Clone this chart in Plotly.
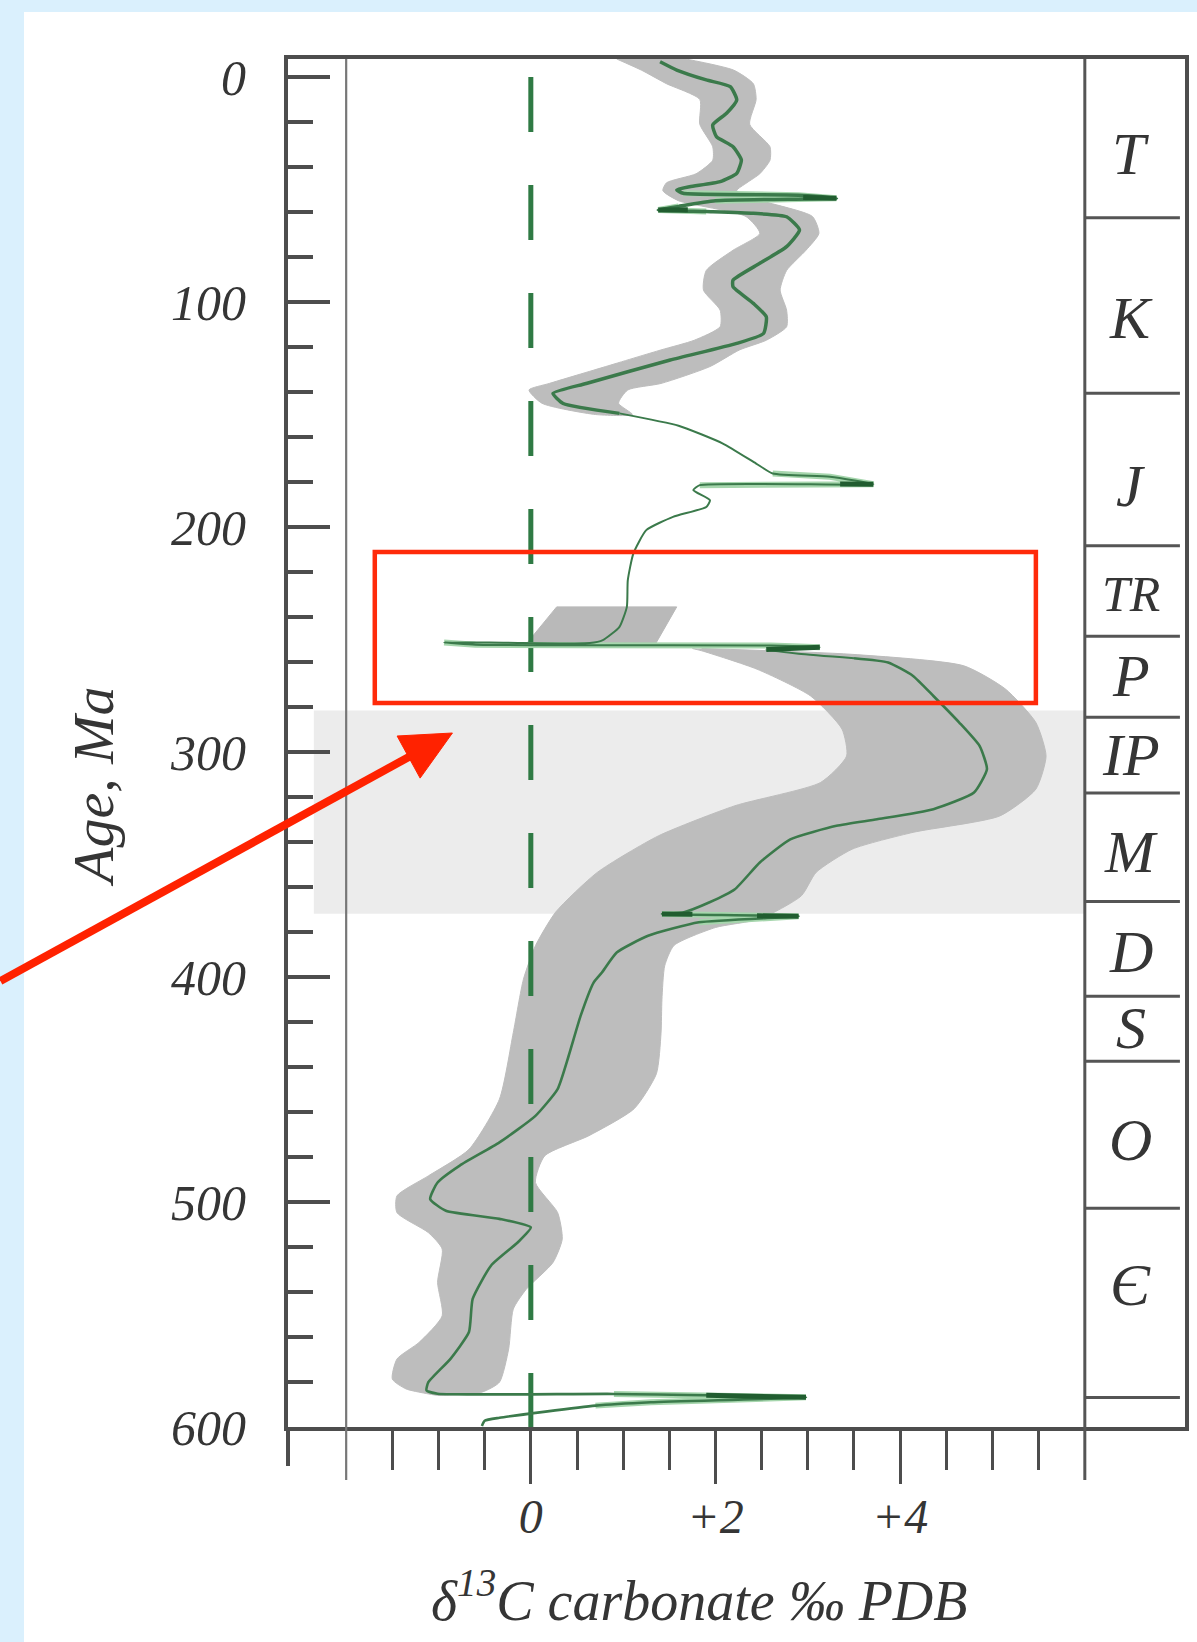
import plotly.graph_objects as go

# ---------------- data ----------------
# central d13C curve (per mil) vs age (Ma)
curve_x = [1.40, 1.58, 1.90, 2.16, 2.23, 2.12, 1.97, 2.01, 2.19, 2.28, 2.23, 2.05, 1.72, 1.58, 1.65, 2.9, 3.31, 2.0,
           1.6, 1.38, 1.9, 2.41, 2.77, 2.91, 2.77, 2.48, 2.19, 2.19, 2.41, 2.55, 2.52, 2.23, 1.51, 0.60, 0.24, 0.35,
           0.96, 1.60, 2.08, 2.44, 2.62, 3.24, 3.71, 1.83, 1.76, 1.94, 1.90, 1.54, 1.25, 1.11, 1.05, 1.04, 0.96,
           0.78, 0.64, -0.3, -0.94, -0.6, 0.5, 2.6, 3.13, 2.55, 2.9, 3.5, 3.87, 4.14, 4.36, 4.64, 4.86, 4.94, 4.80,
           4.36, 3.75, 3.31, 2.81, 2.48, 2.21, 1.93, 1.65, 1.42, 2.9, 1.82, 1.27, 0.93, 0.77, 0.68, 0.54, 0.41, 0.29,
           0.05, -0.34, -0.77, -1.01, -1.09, -0.92, -0.34, 0.0, -0.14, -0.43, -0.63, -0.67, -0.87, -1.11, -1.13,
           -1.01, 0.9, 2.98, 1.3, 0.7, -0.34, -0.5, -0.53]
curve_age = [-6.8, -3.1, 1.3, 4.3, 10.2, 16.1, 21.3, 26.5, 31.0, 36.9, 42.8, 46.5, 48.8, 50.2, 51.7, 52.5, 53.9, 55.0,
             57.5, 59.1, 59.8, 60.6, 62.1, 68.0, 75.4, 82.8, 90.3, 93.2, 100.6, 106.6, 114.0, 118.4, 125.8, 136.2,
             140.6, 145.1, 149.5, 155.0, 162.9, 171.8, 176.2, 177.7, 181.0, 181.4, 183.6, 188.1, 191.1, 195.5, 201.4,
             211.8, 223.7, 235.5, 244.4, 250.3, 251.6, 251.4, 251.3, 252.3, 252.6, 252.7, 253.4, 254.6, 256.3, 258.3,
             260.2, 266.2, 275.1, 286.9, 297.3, 307.6, 318.0, 325.4, 329.9, 332.8, 338.8, 349.1, 361.0, 366.9, 371.3,
             372.0, 373.0, 375.7, 381.7, 389.1, 398.0, 402.5, 417.2, 435.0, 449.8, 461.7, 473.5, 483.8, 491.3, 498.7,
             503.9, 507.5, 511.3, 517.9, 528.2, 543.1, 557.8, 569.7, 580.1, 583.7, 585.2, 585.3, 586.8, 589.0, 590.5,
             595.9, 597.2, 599.5]

# grey uncertainty envelope, Cenozoic-Cretaceous part
env1_age = [-8, -3, 3, 10, 21, 31, 37, 43, 47, 50.5, 55, 62, 69.5, 77, 86, 94.7, 103.6, 111, 117, 121.3, 128.7,
            136.2, 139.1, 145, 150]
env1_left = [0.93, 1.2, 1.47, 1.83, 1.83, 1.97, 1.97, 1.79, 1.47, 1.43, 1.6, 2.33, 2.48, 2.19, 1.9, 1.87, 2.05, 2.05,
             1.77, 1.41, 0.81, 0.2, -0.02, 0.12, 0.7]
env1_right = [1.68, 2.2, 2.41, 2.44, 2.37, 2.59, 2.59, 2.48, 2.34, 2.23, 2.5, 3.05, 3.12, 2.98, 2.77, 2.7, 2.77, 2.77,
              2.55, 2.26, 1.94, 1.41, 1.05, 0.95, 1.1]

# grey envelope, Permian to Ediacaran part
env3_left_age = [254.0, 255.0, 263.2, 275.1, 289.8, 301.8, 313.5, 323.9, 337.3, 353.5, 371.1, 386.1, 401.0, 424.7,
                 454.3, 476.6, 488.4, 497.3, 504.7, 513.6, 520.9, 535.7, 550.6, 562.4, 569.8, 578.7, 583.1, 586.0]
env3_left_x = [1.75, 1.85, 2.45, 3.03, 3.37, 3.42, 3.14, 2.21, 1.38, 0.72, 0.27, 0.05, -0.08, -0.19, -0.34, -0.67,
               -1.11, -1.45, -1.45, -1.11, -0.96, -1.01, -0.96, -1.21, -1.45, -1.5, -1.35, -1.01]
env3_right_age = [254.0, 256.6, 261.7, 272.0, 286.9, 301.8, 316.5, 328.4, 335.7, 343.2, 353.5, 363.9, 374.2, 378.0,
                  386.0, 395.0, 410.0, 425.0, 443.0, 458.5, 470.5, 479.5, 491.3, 504.7, 516.5, 526.9, 538.8, 547.6,
                  565.3, 580.1, 584.5, 586.0]
env3_right_x = [1.85, 3.48, 4.69, 5.14, 5.47, 5.58, 5.47, 5.08, 4.14, 3.48, 3.09, 2.93, 2.48, 2.0, 1.55, 1.45, 1.42,
                1.41, 1.36, 1.12, 0.63, 0.15, 0.05, 0.29, 0.34, 0.24, -0.05, -0.19, -0.24, -0.34, -0.53, -1.01]

# Triassic grey block
tri_x = [0.28, 1.58, 1.35, -0.05]
tri_age = [235.5, 235.5, 252.0, 252.0]

# light-green highlighted excursion segments and their dark tips
spike_x = [1.65, 2.9, 3.31, 2.0, None, 1.6, 1.38, 1.9, None, 2.62, 3.24, 3.71, 1.83, None,
           -0.94, -0.6, 0.5, 2.6, 3.13, None, 1.42, 2.9, 1.82, None, 0.9, 2.98, 1.3, 0.7]
spike_age = [51.7, 52.5, 53.9, 55.0, None, 57.5, 59.1, 59.8, None, 176.2, 177.7, 181.0, 181.4, None,
             251.3, 252.3, 252.6, 252.7, 253.4, None, 372.0, 373.0, 375.7, None, 585.3, 586.8, 589.0, 590.5]
tip_x = [2.95, 3.31, None, 1.38, 1.7, None, 3.35, 3.71, None, 2.55, 3.13, None, 1.42, 1.75, None, 2.45, 2.9,
         None, 1.9, 2.98]
tip_age = [53.6, 53.9, None, 59.1, 59.0, None, 180.9, 181.0, None, 254.4, 253.4, None, 372.0, 372.1, None,
           372.8, 373.0, None, 585.9, 586.8]

# zero reference line
zero_x = [0, 0]
zero_age = [0, 600]

# geological periods (right-hand column)
period_names = ["T", "K", "J", "TR", "P", "IP", "M", "D", "S", "O", "Є"]
period_label_age = [34.1, 107.1, 181.7, 229.9, 266.3, 301.2, 344.4, 388.8, 422.5, 472.4, 537.0]
period_bounds = [62.6, 140.5, 208.3, 248.6, 284.6, 318.2, 366.4, 408.5, 437.4, 502.8, 586.9]

# light grey band and red highlight box
band_age = [281.5, 371.9]
box_x = [-1.69, 5.47]
box_age = [211.1, 278.2]

# axes
x_major = [0, 2, 4]
x_major_text = ["0", "+2", "+4"]
x_minor = [-1.5, -1, -0.5, 0.5, 1, 1.5, 2.5, 3, 3.5, 4.5, 5, 5.5]
x_frame = [-2, 6]
y_ticks = [0, 100, 200, 300, 400, 500, 600]

# ---------------- figure ----------------
AX = "#4d4d4d"
TXT = "#353535"
FONT = "Liberation Serif"
GREEN = "#3b7a4b"
RED = "#ff2200"
PLOT_H = 1368

fig = go.Figure()

fig.add_trace(go.Scatter(x=env1_left + env1_right[::-1], y=env1_age + env1_age[::-1], mode="lines",
                         fill="toself", fillcolor="#bdbdbd",
                         line=dict(color="#bdbdbd", width=1, shape="spline", smoothing=0.6), hoverinfo="skip"))
fig.add_trace(go.Scatter(x=env3_left_x + env3_right_x[::-1], y=env3_left_age + env3_right_age[::-1],
                         mode="lines", fill="toself", fillcolor="#bdbdbd",
                         line=dict(color="#bdbdbd", width=1, shape="spline", smoothing=0.6), hoverinfo="skip"))
fig.add_trace(go.Scatter(x=tri_x + tri_x[:1], y=tri_age + tri_age[:1], mode="lines", fill="toself",
                         fillcolor="#b9b9b9", line=dict(color="#b9b9b9", width=1), hoverinfo="skip"))

fig.add_trace(go.Scatter(x=zero_x, y=zero_age, mode="lines",
                         line=dict(color="#2f7a44", width=5, dash="55px,53px"), hoverinfo="skip"))

fig.add_trace(go.Scatter(x=spike_x, y=spike_age, mode="lines", connectgaps=False,
                         line=dict(color="#a6d6ad", width=6), hoverinfo="skip"))

# main curve split in three segments of different weights
segments = [(-100, 149.5, 3.5), (149.5, 258.3, 2.0), (258.3, 1000, 2.6)]
for lo, hi, w in segments:
    xs = [x for x, a in zip(curve_x, curve_age) if lo <= a <= hi]
    ys = [a for a in curve_age if lo <= a <= hi]
    fig.add_trace(go.Scatter(x=xs, y=ys, mode="lines",
                             line=dict(color=GREEN, width=w, shape="spline", smoothing=0.5), hoverinfo="skip"))

fig.add_trace(go.Scatter(x=tip_x, y=tip_age, mode="lines", connectgaps=False,
                         line=dict(color="#215d30", width=5), hoverinfo="skip"))

shapes = []
# white panel over the light blue page background
shapes.append(dict(type="rect", xref="paper", yref="paper", x0=-0.2943, x1=1.2, y0=-0.3, y1=1.0344,
                   fillcolor="white", line=dict(width=0), layer="below"))
# light grey band
shapes.append(dict(type="rect", xref="x", yref="y", x0=-2.35, x1=6, y0=band_age[0], y1=band_age[1],
                   fillcolor="#ececec", line=dict(width=0), layer="below"))
# inner frame lines (continue below the axis as long ticks)
for xv, col, w in zip(x_frame, ["#777777", "#555555"], [2.2, 3]):
    shapes.append(dict(type="line", xref="x", yref="paper", x0=xv, x1=xv, y0=-53 / PLOT_H, y1=1,
                       line=dict(color=col, width=w), layer="above"))
# left axis line running past the bottom
shapes.append(dict(type="line", xref="paper", yref="paper", x0=0, x1=0, y0=0, y1=-39 / PLOT_H,
                   line=dict(color=AX, width=4)))
# period separators
for b in period_bounds:
    shapes.append(dict(type="line", xref="x", yref="y", x0=6, x1=7.03, y0=b, y1=b,
                       line=dict(color="#555555", width=3), layer="above"))
# red highlight box
shapes.append(dict(type="rect", xref="x", yref="y", x0=box_x[0], x1=box_x[1], y0=box_age[0], y1=box_age[1],
                   line=dict(color="#ff2a0a", width=4.5), fillcolor="rgba(0,0,0,0)", layer="above"))
# red pointer arrow (shaft + head), anchored at its tip, sized in pixels
ARROW_ANCHOR = dict(xref="paper", yref="paper", xsizemode="pixel", ysizemode="pixel",
                    xanchor=0.1833, yanchor=0.5073)
shapes.append(dict(type="line", x0=-452, y0=-248, x1=-40, y1=-22, line=dict(color=RED, width=8),
                   layer="above", **ARROW_ANCHOR))
shapes.append(dict(type="path", path="M0,0 L-55.3,-3.0 L-32.3,-45.1 Z", fillcolor=RED,
                   line=dict(color=RED, width=1), layer="above", **ARROW_ANCHOR))

annotations = []
for name, a in zip(period_names, period_label_age):
    annotations.append(dict(x=6.5, y=a, xref="x", yref="y", text=name, showarrow=False,
                            font=dict(family=FONT, size=60 if name != "TR" else 50, color=TXT, style="italic"),
                            xanchor="center", yanchor="middle"))
annotations.append(dict(x=-0.2163, y=0.4686, xref="paper", yref="paper", text="Age, Ma", textangle=-90,
                        showarrow=False, font=dict(family=FONT, size=58, color=TXT, style="italic"),
                        xanchor="center", yanchor="middle"))
annotations.append(dict(x=0.4593, y=-0.124, xref="paper", yref="paper",
                        text="δ<sup>13</sup>C carbonate ‰ PDB", showarrow=False,
                        font=dict(family=FONT, size=56, color=TXT, style="italic"),
                        xanchor="center", yanchor="middle"))

fig.update_layout(
    width=1197, height=1642,
    margin=dict(l=288, r=12, t=59, b=215, pad=0, autoexpand=False),
    paper_bgcolor="#daf0fd", plot_bgcolor="white",
    showlegend=False, shapes=shapes, annotations=annotations,
)
fig.update_xaxes(range=[-2.63, 7.085], showline=True, linecolor=AX, linewidth=3.5, mirror=True,
                 showgrid=False, zeroline=False, ticks="outside", tickmode="array", tickvals=x_major,
                 ticktext=x_major_text, ticklen=53, tickwidth=2.5, tickcolor=AX,
                 tickfont=dict(family=FONT, size=48, color=TXT, style="italic"), ticklabelstandoff=-8,
                 minor=dict(tickmode="array", tickvals=x_minor, ticks="outside", ticklen=39, tickwidth=2.5,
                            tickcolor=AX, showgrid=False))
fig.update_yaxes(range=[600, -8], showline=True, linecolor=AX, linewidth=4, mirror=True, showgrid=False,
                 zeroline=False, ticks="inside", tickmode="array", tickvals=y_ticks, ticklen=42, tickwidth=3.5,
                 tickcolor=AX, tickfont=dict(family=FONT, size=50, color=TXT, style="italic"),
                 ticklabelstandoff=28,
                 minor=dict(tick0=0, dtick=20, ticks="inside", ticklen=25, tickwidth=3.5, tickcolor=AX,
                            showgrid=False))

fig.write_html("out.html", config={"displayModeBar": False},
               post_script="document.body.style.margin='0px';"
                           "document.body.style.backgroundColor='#daf0fd';")
